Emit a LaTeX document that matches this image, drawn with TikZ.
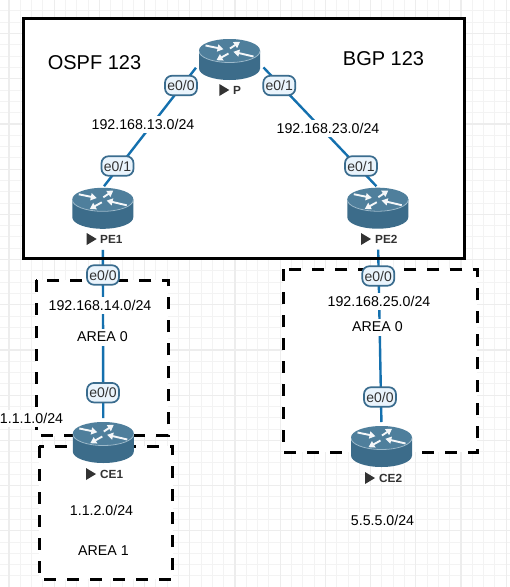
\documentclass[tikz,border=0pt]{standalone}
\usepackage{fontspec}
\setmainfont{Liberation Sans}
\usetikzlibrary{arrows.meta}
\definecolor{gridminor}{HTML}{F3F3F3}
\definecolor{gridmajor}{HTML}{EDEDED}
\definecolor{linkblue}{HTML}{1470AE}
\definecolor{bodyblue}{HTML}{3C6C8A}
\definecolor{topblue}{HTML}{4F7F9C}
\definecolor{rimblue}{HTML}{9DBACB}
\definecolor{ifborder}{HTML}{3A6C8E}
\definecolor{iffill}{HTML}{EAF4FC}
\definecolor{darktext}{HTML}{333333}
\pgfdeclarelayer{bgl}
\pgfdeclarelayer{linkl}
\pgfdeclarelayer{borderl}
\pgfsetlayers{bgl,linkl,borderl,main}
\tikzset{
  routerarrow/.style={white!94!topblue,line width=1.9pt,-{Triangle[width=7pt,length=6pt]}},
  router/.style={rectangle,inner sep=0pt,outer sep=0pt,minimum width=61pt,minimum height=41pt,
    path picture={
      \begin{scope}[shift={(path picture bounding box.center)}]
        \fill[bodyblue] (-30.5,-9) -- (-30.5,9) arc[start angle=180,end angle=360,x radius=30.5pt,y radius=11.5pt] -- (30.5,-9) -- cycle;
        \fill[topblue] (0,-9) ellipse[x radius=30.5pt,y radius=11.5pt];
        \draw[rimblue,line width=.8pt] (-30.5,-8.5) arc[start angle=180,end angle=360,x radius=30.5pt,y radius=11.5pt];
        \draw[routerarrow] (-24,-14) -- (-6,-10.3);
        \draw[routerarrow] (0.5,-11) -- (10.5,-17.7);
        \draw[routerarrow] (24,-3) -- (3.8,-7.7);
        \draw[routerarrow] (-1,-6) -- (-13,0.7);
      \end{scope}
    }},
  iface/.style={rectangle,rounded corners=7pt,draw=ifborder,fill=iffill,line width=1.7pt,text=darktext,
    font=\fontsize{14}{14}\selectfont,inner sep=0pt,minimum width=32pt,minimum height=19.5pt},
  netlabel/.style={fill=white,inner sep=0pt,minimum height=17pt,text=black,font=\fontsize{14.2}{14.2}\selectfont},
  bigtitle/.style={inner sep=0pt,text=black,font=\fontsize{20}{20}\selectfont},
  routername/.style={anchor=west,inner sep=0pt,text=darktext,font=\fontsize{11.8}{11.8}\selectfont\bfseries},
  link/.style={linkblue,line width=2.4pt},
  solidbox/.style={draw=black,line width=3pt},
  dashbox/.style={draw=black,line width=3pt,dash pattern=on 12pt off 11pt},
  whitefill/.style={fill=white}
}
\newcommand{\marker}[2]{\fill[darktext] (#1,#2-6) -- (#1+10,#2) -- (#1,#2+6) -- cycle;}
\begin{document}
\begin{tikzpicture}[x=1pt,y=-1pt]
\useasboundingbox (0,0) rectangle (510,587);
\begin{pgfonlayer}{bgl}
  \fill[white] (0,0) rectangle (510,587);
  \foreach \k in {0,...,44} {
    \draw[gridminor,line width=1pt] ({9+11.3*\k},0) -- ({9+11.3*\k},587);
  }
  \foreach \k in {0,...,51} {
    \draw[gridminor,line width=1pt] (0,{-0.4+11.3*\k}) -- (510,{-0.4+11.3*\k});
  }
  \foreach \k in {0,...,11} {
    \draw[gridmajor,line width=1.2pt] ({9+45.2*\k},0) -- ({9+45.2*\k},587);
  }
  \foreach \k in {0,...,12} {
    \draw[gridmajor,line width=1.2pt] (0,{-11.7+45.2*\k}) -- (510,{-11.7+45.2*\k});
  }
  \path[whitefill] (23.5,18) rectangle (464,258.7);
  \path[whitefill] (36,280) rectangle (168,435.7);
  \path[whitefill] (39.3,446) rectangle (172.7,579.3);
  \path[whitefill] (283.3,269.3) rectangle (477.3,452.3);
\end{pgfonlayer}
\begin{pgfonlayer}{borderl}
  \path[solidbox] (23.5,18) rectangle (464,258.7);
  \path[dashbox] (36,280) rectangle (168,435.7);
  \path[dashbox] (39.3,446) rectangle (172.7,579.3);
  \path[dashbox] (283.3,269.3) rectangle (477.3,452.3);
\end{pgfonlayer}

\node[router] (P) at (229.5,59.5) {};
\node[router] (PE1) at (102.8,208.3) {};
\node[router] (PE2) at (377.8,208.2) {};
\node[router] (CE1) at (103.3,442.5) {};
\node[router] (CE2) at (381.5,446.5) {};

\begin{pgfonlayer}{linkl}
  \draw[link,shorten <=5pt,shorten >=2pt] (P.188) -- (PE1.north);
  \draw[link,shorten <=5pt,shorten >=2pt] (P.352) -- (PE2.north);
  \draw[link,shorten <=21pt,shorten >=4pt] (PE1.south) -- (CE1.north);
  \draw[link,shorten <=21pt,shorten >=4pt] (PE2.south) -- (CE2.north);
\end{pgfonlayer}

\marker{219.3}{90}
\node[routername] (Pn) at (233,90) {P};
\marker{86.7}{239}
\node[routername] (PE1n) at (100,239.3) {PE1};
\marker{361}{239}
\node[routername] (PE2n) at (375,239.3) {PE2};
\marker{86}{474}
\node[routername] (CE1n) at (100,474) {CE1};
\marker{365}{478}
\node[routername] (CE2n) at (379,478) {CE2};

\node[iface] (i1) at (181,85.5) {e0/0};
\node[iface] (i2) at (279.3,85.5) {e0/1};
\node[iface] (i3) at (117.5,166) {e0/1};
\node[iface] (i4) at (361,166) {e0/1};
\node[iface] (i5) at (103,275) {e0/0};
\node[iface] (i6) at (378.3,276) {e0/0};
\node[iface] (i7) at (103,392.7) {e0/0};
\node[iface] (i8) at (380,397) {e0/0};

\node[bigtitle] (ospf) at (94.5,63) {OSPF 123};
\node[bigtitle] (bgp) at (383.5,59) {BGP 123};
\node[netlabel] (n13) at (143,124) {192.168.13.0/24};
\node[netlabel] (n23) at (328,128) {192.168.23.0/24};
\node[netlabel] (n14) at (100,305) {192.168.14.0/24};
\node[netlabel] (n25) at (379,301) {192.168.25.0/24};
\node[netlabel] (a0l) at (102.5,337) {AREA 0};
\node[netlabel] (a0r) at (377.5,327) {AREA 0};
\node[netlabel] (n111) at (31.5,418) {1.1.1.0/24};
\node[netlabel] (n112) at (101.5,510) {1.1.2.0/24};
\node[netlabel] (a1) at (103.5,550.7) {AREA 1};
\node[netlabel] (n555) at (382.5,520) {5.5.5.0/24};
\end{tikzpicture}
\end{document}
